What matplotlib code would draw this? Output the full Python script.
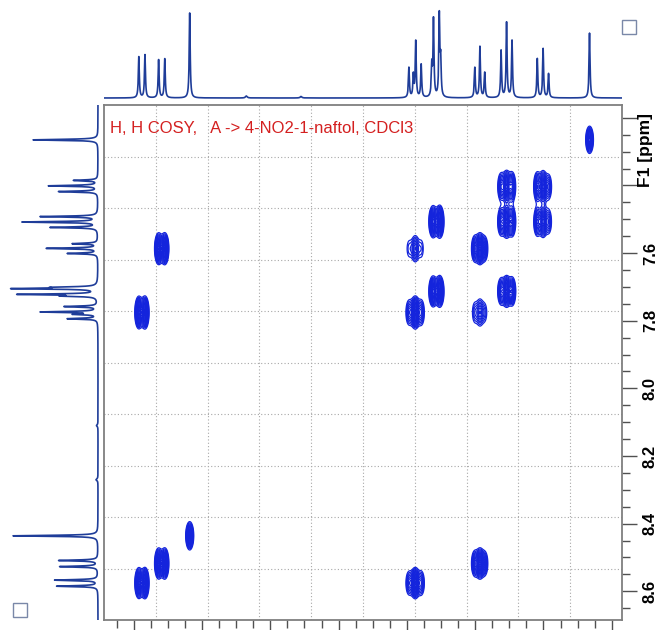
import numpy as np
import matplotlib
matplotlib.use('Agg')
import matplotlib.pyplot as plt
from matplotlib.ticker import MultipleLocator, FuncFormatter
from matplotlib.patches import Rectangle

plt.rcParams['font.family'] = ['Liberation Sans', 'DejaVu Sans']

mult_lines = [
    [8.585, 8.567],                 # A
    [8.527, 8.509],                 # B
    [8.436],                        # C
    [7.794, 7.781, 7.774, 7.758],   # D
    [7.727, 7.722, 7.705, 7.701],   # E
    [7.601, 7.586, 7.572],          # F
    [7.524, 7.508, 7.492],          # G
    [7.418, 7.401, 7.385],          # H
    [7.265],                        # I  (CDCl3)
]
mult_heights = [
    [41, 43],
    [38, 39],
    [85],
    [30, 22, 56, 33],
    [30, 77, 81, 35],
    [30, 51, 25],
    [47, 75, 57],
    [39, 49, 24],
    [65],
]
small_ppm = [8.27, 8.11]
small_h = [2, 1.5]

# picos cruzados: indice do multipleto em F2, em F1 e intensidade relativa
cross_f2 = [0, 1, 2, 3, 4, 5, 6, 7, 8, 0, 3, 1, 5, 3, 5, 4, 6, 6, 7]
cross_f1 = [0, 1, 2, 3, 4, 5, 6, 7, 8, 3, 0, 5, 1, 5, 3, 6, 4, 7, 6]
cross_w = [1, 1, 0.9, 1, 1, 1, 1, 0.9, 0.8, 1, 1, 1, 1, 0.55, 0.55, 1, 1, 0.95, 0.85]

titulo = 'H, H COSY,   A -> 4-NO2-1-naftol, CDCl3'

F2_LIM = (8.687, 7.17)
F1_LIM = (8.685, 7.162)
COR_1D = '#1f3d99'
COR_2D = '#1424dc'


def espectro_1d(ppm):
    gam = 0.0017
    y = np.zeros_like(ppm)
    for linhas, alturas in zip(mult_lines, mult_heights):
        for l, h in zip(linhas, alturas):
            y += h / (1 + ((ppm - l) / gam) ** 2)
    for l, h in zip(small_ppm, small_h):
        y += h / (1 + ((ppm - l) / 0.003) ** 2)
    return y


def mapa_2d(f2, f1):
    s2, s1 = 0.0065, 0.023
    z = np.zeros((len(f1), len(f2)))
    for i2, i1, w in zip(cross_f2, cross_f1, cross_w):
        g2 = np.zeros_like(f2)
        for l, h in zip(mult_lines[i2], mult_heights[i2]):
            g2 += h * np.exp(-(f2 - l) ** 2 / (2 * s2 ** 2))
        g1 = np.zeros_like(f1)
        for l, h in zip(mult_lines[i1], mult_heights[i1]):
            g1 += h * np.exp(-(f1 - l) ** 2 / (2 * s1 ** 2))
        b = np.outer(g1, g2)
        z += w * b / b.max()
    return z


W, H = 660, 630
fig = plt.figure(figsize=(W / 100, H / 100), dpi=100)

# mapa principal
ax = fig.add_axes([104 / W, 10 / H, 518 / W, 515 / H])
f2 = np.linspace(F2_LIM[1], F2_LIM[0], 1500)
f1 = np.linspace(F1_LIM[1], F1_LIM[0], 800)
z = mapa_2d(f2, f1)
niveis = np.linspace(0.17, 0.97, 16)
ax.contour(f2, f1, z, levels=niveis, colors=COR_2D, linewidths=0.9, zorder=3)

for v in np.linspace(F2_LIM[0], F2_LIM[1], 11)[1:-1]:
    ax.axvline(v, color='#a8a8a8', lw=0.8, ls=(0, (1, 2)), zorder=1)
for v in np.linspace(F1_LIM[0], F1_LIM[1], 11)[1:-1]:
    ax.axhline(v, color='#a8a8a8', lw=0.8, ls=(0, (1, 2)), zorder=1)

ax.set_xlim(*F2_LIM)
ax.set_ylim(*F1_LIM)
ax.yaxis.tick_right()
for eixo in (ax.xaxis, ax.yaxis):
    eixo.set_major_locator(MultipleLocator(0.2))
    eixo.set_minor_locator(MultipleLocator(0.05))
ax.yaxis.set_major_formatter(FuncFormatter(lambda v, p: '' if v < 7.5 else f'{v:.1f}'))
ax.tick_params(which='both', direction='out', color='#505050', width=1,
               bottom=True, top=False, left=False, right=True,
               labelbottom=False, labelleft=False, labelright=True)
ax.tick_params(which='major', length=11, pad=4)
ax.tick_params(which='minor', length=6)
ax.tick_params(axis='y', labelrotation=90, labelsize=12)
for t in ax.get_yticklabels():
    t.set_fontweight('bold')
    t.set_va('center')
for s in ax.spines.values():
    s.set_color('#7f7f7f')
    s.set_linewidth(1.3)

ax.text(1.031, 7.295, 'F1 [ppm]', transform=ax.get_yaxis_transform(), rotation=90,
        fontsize=12.5, fontweight='bold', ha='left', va='center')
ax.text(0.012, 0.955, titulo, transform=ax.transAxes, color='#d42020',
        fontsize=12, ha='left', va='center')

# projecao de cima (F2)
ax_t = fig.add_axes([104 / W, (H - 104) / H, 518 / W, 104 / H])
ppm = np.linspace(F2_LIM[1], F2_LIM[0], 9000)
ax_t.plot(ppm, espectro_1d(ppm), color=COR_1D, lw=1.2)
ax_t.set_xlim(*F2_LIM)
ax_t.set_ylim(-6, 98)
ax_t.axis('off')

# projecao da esquerda (F1)
ax_l = fig.add_axes([0, 10 / H, 104 / W, 515 / H])
ppm1 = np.linspace(F1_LIM[1], F1_LIM[0], 9000)
ax_l.plot(espectro_1d(ppm1), ppm1, color=COR_1D, lw=1.2)
ax_l.set_xlim(98, -6)
ax_l.set_ylim(*F1_LIM)
ax_l.axis('off')

# quadradinhos dos cantos
for x0, y0 in [(622, 20), (13, 603)]:
    fig.add_artist(Rectangle((x0 / W, 1 - (y0 + 14) / H), 14 / W, 14 / H,
                             transform=fig.transFigure, fill=False,
                             ec='#7a88a8', lw=1))

fig.savefig('out.png', dpi=100)
